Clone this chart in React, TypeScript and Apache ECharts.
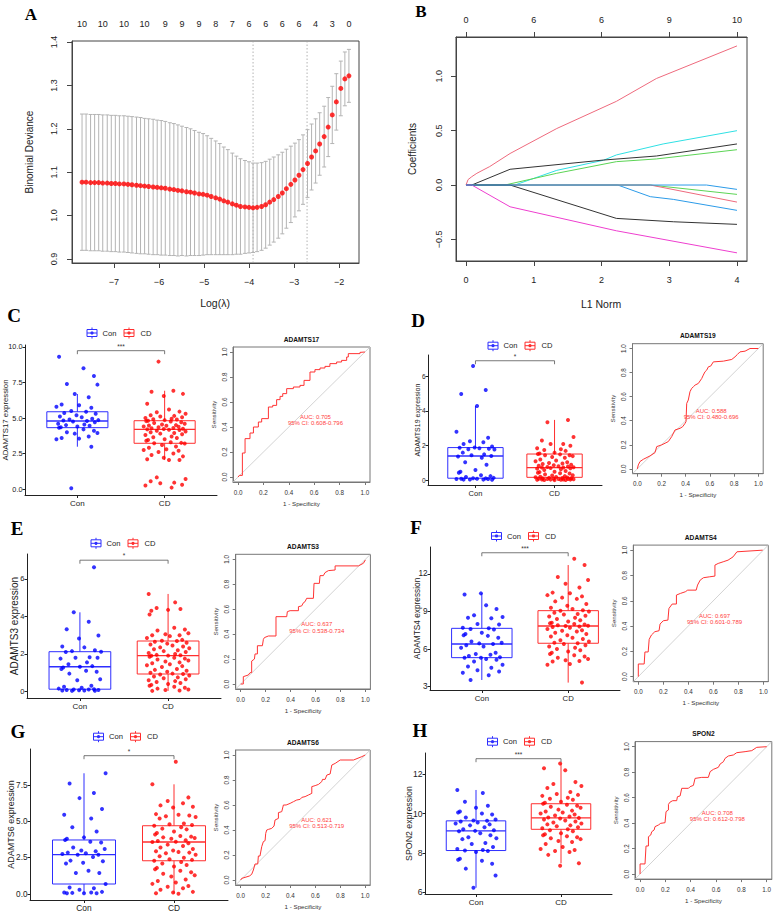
import React, { useEffect, useRef } from "react";
import * as echarts from "echarts";

const FONT = '"Liberation Sans", Arial, Helvetica, sans-serif';
const SERIF = '"Liberation Serif", "Times New Roman", Times, serif';

// ---------------- Panel A : cross-validation curve ----------------
const LOG_LAMBDA = [-7.71, -7.62, -7.52, -7.43, -7.34, -7.25, -7.15, -7.06, -6.97, -6.88, -6.78, -6.69, -6.6, -6.5, -6.41, -6.32, -6.23, -6.13, -6.04, -5.95, -5.86, -5.76, -5.67, -5.58, -5.49, -5.39, -5.3, -5.21, -5.11, -5.02, -4.93, -4.84, -4.74, -4.65, -4.56, -4.47, -4.37, -4.28, -4.19, -4.09, -4.0, -3.91, -3.82, -3.72, -3.63, -3.54, -3.45, -3.35, -3.26, -3.17, -3.07, -2.98, -2.89, -2.8, -2.7, -2.61, -2.52, -2.43, -2.33, -2.24, -2.15, -2.06, -1.96, -1.87, -1.78];
const CV_MEAN = [1.077, 1.077, 1.076, 1.076, 1.076, 1.075, 1.075, 1.074, 1.074, 1.073, 1.073, 1.072, 1.071, 1.07, 1.069, 1.068, 1.067, 1.066, 1.065, 1.064, 1.063, 1.061, 1.06, 1.058, 1.057, 1.055, 1.054, 1.052, 1.05, 1.049, 1.047, 1.044, 1.041, 1.038, 1.034, 1.031, 1.027, 1.024, 1.021, 1.02, 1.019, 1.018, 1.019, 1.021, 1.025, 1.031, 1.037, 1.044, 1.052, 1.062, 1.072, 1.082, 1.093, 1.106, 1.12, 1.135, 1.149, 1.165, 1.182, 1.204, 1.232, 1.262, 1.293, 1.315, 1.322];
const CV_SE = [0.157, 0.157, 0.157, 0.157, 0.157, 0.157, 0.157, 0.157, 0.157, 0.157, 0.157, 0.157, 0.157, 0.157, 0.157, 0.156, 0.156, 0.156, 0.155, 0.155, 0.154, 0.153, 0.152, 0.151, 0.149, 0.148, 0.146, 0.144, 0.142, 0.14, 0.137, 0.134, 0.131, 0.128, 0.124, 0.121, 0.117, 0.113, 0.11, 0.107, 0.105, 0.103, 0.102, 0.101, 0.1, 0.099, 0.098, 0.096, 0.094, 0.091, 0.088, 0.085, 0.082, 0.08, 0.078, 0.076, 0.074, 0.072, 0.07, 0.068, 0.066, 0.065, 0.063, 0.062, 0.061];
const NZERO_POS = [-7.71, -7.25, -6.78, -6.32, -5.86, -5.49, -5.11, -4.74, -4.37, -4.0, -3.63, -3.26, -2.89, -2.52, -2.15, -1.78];
const NZERO_LABELS = ["10", "10", "10", "10", "9", "9", "9", "8", "7", "6", "6", "6", "6", "4", "3", "0"];
const LAMBDA_MIN = -3.91;
const LAMBDA_1SE = -2.71;
const A_X_TICKS = [-7, -6, -5, -4, -3, -2];
const A_Y_TICKS = [0.9, 1.0, 1.1, 1.2, 1.3, 1.4];

// ---------------- Panel B : coefficient paths ----------------
const B_X_TICKS = [0, 1, 2, 3, 4];
const B_TOP_LABELS = ["0", "6", "6", "9", "10"];
const B_Y_TICKS = [-0.5, 0, 0.5, 1.0];
const PATH_PINK_UP = [[0, 0], [0.03, 0.05], [0.085, 0.077], [0.16, 0.108], [0.35, 0.17], [0.65, 0.29], [1.34, 0.52], [2.22, 0.77], [2.81, 0.98], [4.0, 1.28]];
const PATH_CYAN = [[0, 0], [0.72, 0], [1.34, 0.135], [2.03, 0.228], [2.22, 0.277], [2.91, 0.378], [4.0, 0.5]];
const PATH_BLACK_UP = [[0, 0], [0.085, 0], [0.65, 0.145], [2.03, 0.23], [2.81, 0.267], [4.0, 0.378]];
const PATH_GREEN_UP = [[0, 0], [0.575, 0], [1.34, 0.108], [2.22, 0.215], [2.81, 0.24], [4.0, 0.325]];
const PATH_BLUE_DOWN = [[0, 0], [2.24, 0], [2.72, -0.107], [3.06, -0.132], [4.0, -0.233]];
const PATH_GREEN_DOWN = [[0, 0], [2.72, 0], [4.0, -0.086]];
const PATH_PINK_DOWN = [[0, 0], [2.72, 0], [4.0, -0.157]];
const PATH_BLACK_DOWN = [[0, 0], [0.65, 0], [2.22, -0.307], [3.06, -0.338], [4.0, -0.362]];
const PATH_MAGENTA = [[0, 0], [0.085, 0], [0.65, -0.2], [2.22, -0.421], [4.0, -0.624]];
const PATH_BLUE_FLAT = [[0, 0], [3.55, 0], [4.0, -0.04]];
const COEF_PATHS = [PATH_PINK_UP, PATH_CYAN, PATH_BLACK_UP, PATH_GREEN_UP, PATH_BLUE_DOWN, PATH_GREEN_DOWN, PATH_PINK_DOWN, PATH_BLACK_DOWN, PATH_MAGENTA, PATH_BLUE_FLAT];
const COEF_COLORS = ["#EE6A7D", "#2FE0E4", "#333333", "#5CD455", "#2C9BE8", "#5CD455", "#EE6A7D", "#333333", "#EE3FCF", "#2C9BE8"];

// ---------------- Box plots (C–H) ----------------
const CATEGORIES = ["Con", "CD"];
const CATEGORY_POS = [1, 2];

const C_CON_POINTS = [9.32, 8.5, 7.96, 7.4, 7.35, 6.69, 6.46, 5.95, 5.9, 5.8, 5.72, 5.5, 5.44, 5.35, 5.3, 5.2, 5.1, 5.05, 4.95, 4.9, 4.85, 4.82, 4.79, 4.75, 4.7, 4.6, 4.55, 4.5, 4.45, 4.4, 4.35, 4.32, 4.2, 4.1, 4.0, 3.95, 3.9, 3.7, 3.6, 3.55, 3.5, 2.98, 0.05];
const C_CD_POINTS = [8.97, 6.92, 6.85, 6.7, 6.55, 6.0, 5.6, 5.45, 5.4, 5.3, 5.2, 5.15, 5.1, 5.05, 5.0, 4.95, 4.92, 4.9, 4.85, 4.81, 4.78, 4.75, 4.7, 4.65, 4.6, 4.55, 4.5, 4.48, 4.45, 4.4, 4.38, 4.35, 4.3, 4.28, 4.25, 4.22, 4.2, 4.18, 4.15, 4.1, 4.05, 4.0, 3.95, 3.9, 3.85, 3.8, 3.7, 3.65, 3.6, 3.5, 3.45, 3.4, 3.3, 3.25, 3.22, 3.2, 3.1, 3.0, 2.9, 2.8, 2.75, 2.7, 2.6, 2.5, 2.4, 2.3, 2.2, 2.1, 2.05, 2.04, 0.82, 0.7, 0.55, 0.45, 0.4, 0.3, 0.25, 0.1];
const C_CON_BOX = [2.98, 4.32, 4.79, 5.44, 6.69];
const C_CD_BOX = [2.04, 3.22, 4.2, 4.81, 6.92];
const C_Y_TICKS = [0, 2.5, 5, 7.5, 10];

const D_CON_POINTS = [6.58, 5.2, 4.97, 4.28, 2.8, 2.45, 2.25, 2.2, 2.1, 1.95, 1.9, 1.88, 1.85, 1.82, 1.8, 1.78, 1.6, 1.5, 1.45, 1.41, 1.38, 1.3, 1.05, 0.9, 0.6, 0.5, 0.45, 0.3, 0.25, 0.2, 0.15, 0.13, 0.12, 0.1, 0.1, 0.08, 0.08, 0.06, 0.05, 0.05, 0.04];
const D_CD_POINTS = [3.48, 3.35, 2.5, 2.3, 2.1, 2.1, 2.0, 1.85, 1.8, 1.75, 1.7, 1.6, 1.55, 1.52, 1.5, 1.45, 1.45, 1.4, 1.35, 1.3, 1.2, 1.15, 1.1, 1.05, 1.0, 0.98, 0.95, 0.9, 0.88, 0.85, 0.82, 0.8, 0.78, 0.76, 0.75, 0.74, 0.72, 0.7, 0.68, 0.65, 0.6, 0.55, 0.5, 0.48, 0.45, 0.42, 0.4, 0.35, 0.3, 0.28, 0.25, 0.22, 0.2, 0.18, 0.17, 0.15, 0.14, 0.12, 0.12, 0.1, 0.1, 0.09, 0.08, 0.08, 0.07, 0.06, 0.06, 0.05, 0.05, 0.04, 0.04, 0.03, 0.03, 0.02];
const D_CON_BOX = [0.04, 0.13, 1.41, 1.89, 4.28];
const D_CD_BOX = [0.02, 0.18, 0.74, 1.52, 3.48];
const D_Y_TICKS = [0, 2, 4, 6];

const E_CON_POINTS = [6.62, 4.22, 3.72, 3.32, 2.98, 2.82, 2.4, 2.35, 2.2, 2.15, 2.12, 2.1, 1.82, 1.8, 1.8, 1.75, 1.55, 1.45, 1.35, 1.32, 1.28, 1.2, 1.1, 1.05, 0.95, 0.65, 0.6, 0.3, 0.25, 0.2, 0.15, 0.12, 0.1, 0.1, 0.08, 0.08, 0.06, 0.05, 0.05, 0.04, 0.03];
const E_CD_POINTS = [5.2, 4.75, 4.45, 4.4, 4.35, 4.3, 4.1, 3.4, 3.3, 3.25, 3.1, 3.05, 3.0, 3.0, 2.95, 2.85, 2.75, 2.7, 2.69, 2.65, 2.6, 2.55, 2.5, 2.45, 2.4, 2.35, 2.3, 2.25, 2.2, 2.15, 2.1, 2.05, 2.0, 1.95, 1.93, 1.91, 1.9, 1.85, 1.8, 1.75, 1.7, 1.65, 1.6, 1.55, 1.5, 1.45, 1.4, 1.35, 1.3, 1.2, 1.15, 1.1, 1.05, 1.0, 0.95, 0.93, 0.9, 0.85, 0.8, 0.75, 0.7, 0.65, 0.6, 0.55, 0.5, 0.45, 0.4, 0.35, 0.3, 0.25, 0.2, 0.15, 0.1, 0.08, 0.05, 0.03];
const E_CON_BOX = [0.03, 0.12, 1.32, 2.12, 4.22];
const E_CD_BOX = [0.03, 0.93, 1.91, 2.69, 5.2];
const E_Y_TICKS = [0, 2, 4, 6];

const F_CON_POINTS = [10.44, 10.35, 9.5, 9.2, 8.7, 8.55, 8.5, 8.45, 8.0, 7.95, 7.7, 7.65, 7.6, 7.55, 7.3, 7.2, 7.1, 7.05, 6.9, 6.6, 6.5, 6.45, 6.4, 6.3, 6.2, 6.1, 5.7, 5.6, 5.55, 5.45, 5.35, 5.31, 5.3, 5.2, 5.15, 5.0, 4.75, 4.6, 4.5, 4.3, 4.2, 4.1, 3.9, 3.53];
const F_CD_POINTS = [13.2, 12.7, 11.75, 11.5, 11.2, 10.9, 10.5, 10.45, 10.3, 10.2, 10.1, 10.0, 9.8, 9.6, 9.45, 9.3, 9.2, 9.1, 9.06, 9.0, 8.9, 8.8, 8.75, 8.65, 8.6, 8.5, 8.4, 8.3, 8.2, 8.1, 8.05, 8.0, 7.95, 7.9, 7.85, 7.84, 7.8, 7.75, 7.7, 7.6, 7.5, 7.45, 7.4, 7.3, 7.2, 7.1, 7.0, 6.9, 6.8, 6.7, 6.6, 6.5, 6.46, 6.4, 6.3, 6.2, 6.1, 6.0, 5.9, 5.8, 5.7, 5.6, 5.5, 5.4, 5.3, 5.2, 5.1, 5.05, 5.0, 4.8, 4.75, 3.32];
const F_CON_BOX = [3.53, 5.31, 6.4, 7.65, 10.44];
const F_CD_BOX = [3.32, 6.46, 7.84, 9.06, 12.7];
const F_Y_TICKS = [3, 6, 9, 12];

const G_CON_POINTS = [8.31, 7.6, 6.95, 6.6, 5.85, 5.45, 5.2, 4.6, 4.3, 3.9, 3.8, 3.72, 3.6, 3.55, 3.2, 3.1, 3.0, 2.95, 2.85, 2.8, 2.75, 2.71, 2.7, 2.55, 2.3, 2.25, 2.15, 2.1, 1.6, 1.45, 1.45, 0.69, 0.45, 0.4, 0.3, 0.15, 0.1, 0.1, 0.08, 0.06, 0.05, 0.05];
const G_CD_POINTS = [9.1, 7.55, 6.65, 6.4, 6.25, 6.1, 6.0, 5.95, 5.5, 5.45, 5.4, 5.35, 5.3, 5.2, 4.85, 4.8, 4.75, 4.7, 4.6, 4.5, 4.45, 4.3, 4.2, 4.1, 4.0, 3.95, 3.9, 3.85, 3.8, 3.7, 3.65, 3.6, 3.58, 3.5, 3.4, 3.3, 3.2, 3.1, 3.0, 2.95, 2.9, 2.85, 2.8, 2.7, 2.6, 2.5, 2.4, 2.35, 2.29, 2.2, 2.1, 2.0, 1.9, 1.8, 1.7, 1.6, 1.5, 1.4, 1.3, 1.2, 1.0, 0.9, 0.8, 0.7, 0.55, 0.5, 0.4, 0.3, 0.15, 0.1, 0.05, 0.02];
const G_CON_BOX = [0.05, 0.69, 2.71, 3.72, 8.31];
const G_CD_BOX = [0.02, 2.29, 3.58, 4.7, 7.55];
const G_Y_TICKS = [0, 2.5, 5, 7.5];

const H_CON_POINTS = [11.2, 11.05, 10.6, 10.4, 10.3, 10.1, 10.05, 10.0, 9.95, 9.8, 9.7, 9.65, 9.63, 9.6, 9.55, 9.5, 9.45, 9.4, 9.3, 9.2, 9.15, 9.12, 9.1, 9.0, 8.9, 8.8, 8.75, 8.7, 8.5, 8.45, 8.3, 8.2, 8.15, 8.12, 8.1, 8.05, 7.7, 7.65, 7.6, 7.45, 7.2, 6.85, 6.23];
const H_CD_POINTS = [12.55, 12.3, 12.2, 11.6, 11.5, 11.4, 11.3, 11.1, 11.0, 10.95, 10.9, 10.8, 10.75, 10.7, 10.6, 10.55, 10.5, 10.45, 10.4, 10.35, 10.3, 10.2, 10.15, 10.1, 10.05, 10.0, 9.95, 9.9, 9.85, 9.8, 9.78, 9.75, 9.7, 9.65, 9.6, 9.55, 9.5, 9.45, 9.4, 9.35, 9.3, 9.25, 9.2, 9.15, 9.1, 9.0, 8.95, 8.9, 8.85, 8.8, 8.75, 8.7, 8.6, 8.55, 8.45, 8.3, 8.2, 8.15, 8.1, 8.05, 7.9, 7.47, 7.35];
const H_CON_BOX = [6.23, 8.12, 9.12, 9.63, 11.2];
const H_CD_BOX = [7.47, 9.2, 9.78, 10.5, 12.55];
const H_Y_TICKS = [6, 8, 10, 12];

// ---------------- ROC curves: [1 - specificity, sensitivity] ----------------
const ROC_TICKS = [0, 0.2, 0.4, 0.6, 0.8, 1.0];
const C_ROC = [[0, 0], [0.01, 0.013], [0.034, 0.013], [0.034, 0.192], [0.055, 0.192], [0.055, 0.307], [0.094, 0.307], [0.094, 0.352], [0.121, 0.352], [0.121, 0.4], [0.16, 0.4], [0.16, 0.44], [0.186, 0.44], [0.186, 0.467], [0.239, 0.467], [0.239, 0.56], [0.273, 0.56], [0.273, 0.573], [0.304, 0.573], [0.304, 0.619], [0.331, 0.619], [0.331, 0.645], [0.352, 0.645], [0.352, 0.667], [0.383, 0.667], [0.383, 0.707], [0.436, 0.707], [0.436, 0.72], [0.488, 0.72], [0.488, 0.733], [0.52, 0.733], [0.52, 0.773], [0.567, 0.773], [0.567, 0.84], [0.606, 0.84], [0.606, 0.859], [0.646, 0.859], [0.646, 0.872], [0.685, 0.872], [0.685, 0.885], [0.724, 0.885], [0.724, 0.907], [0.777, 0.907], [0.777, 0.92], [0.816, 0.92], [0.816, 0.933], [0.856, 0.933], [0.856, 0.96], [0.869, 0.96], [0.869, 0.987], [0.961, 0.987], [0.961, 0.997], [1, 1]];
const D_ROC = [[0, 0], [0.008, 0.033], [0.022, 0.061], [0.05, 0.08], [0.105, 0.108], [0.146, 0.135], [0.16, 0.185], [0.2, 0.199], [0.229, 0.213], [0.256, 0.227], [0.284, 0.268], [0.311, 0.323], [0.353, 0.337], [0.375, 0.351], [0.394, 0.378], [0.402, 0.392], [0.408, 0.544], [0.421, 0.572], [0.435, 0.641], [0.449, 0.669], [0.463, 0.682], [0.477, 0.696], [0.504, 0.71], [0.532, 0.751], [0.545, 0.779], [0.559, 0.807], [0.573, 0.82], [0.587, 0.848], [0.606, 0.854], [0.628, 0.889], [0.711, 0.895], [0.78, 0.909], [0.807, 0.931], [0.826, 0.95], [0.848, 0.972], [0.89, 0.978], [0.931, 1], [1, 1]];
const E_ROC = [[0, 0], [0.021, 0], [0.021, 0.059], [0.061, 0.072], [0.075, 0.091], [0.088, 0.091], [0.088, 0.184], [0.11, 0.2], [0.115, 0.241], [0.134, 0.241], [0.134, 0.307], [0.174, 0.307], [0.182, 0.358], [0.19, 0.372], [0.222, 0.385], [0.283, 0.385], [0.283, 0.54], [0.369, 0.54], [0.374, 0.58], [0.396, 0.588], [0.463, 0.588], [0.463, 0.62], [0.489, 0.626], [0.503, 0.652], [0.516, 0.66], [0.529, 0.687], [0.583, 0.687], [0.588, 0.807], [0.631, 0.807], [0.636, 0.869], [0.663, 0.869], [0.676, 0.893], [0.703, 0.909], [0.757, 0.914], [0.757, 0.947], [0.944, 0.947], [0.984, 0.968], [1, 0.995], [1, 1]];
const F_ROC = [[0, 0], [0, 0.1], [0.047, 0.1], [0.053, 0.195], [0.079, 0.195], [0.087, 0.295], [0.105, 0.329], [0.132, 0.355], [0.166, 0.363], [0.174, 0.416], [0.2, 0.442], [0.237, 0.447], [0.245, 0.539], [0.271, 0.574], [0.305, 0.574], [0.305, 0.645], [0.337, 0.658], [0.376, 0.671], [0.395, 0.684], [0.463, 0.684], [0.474, 0.724], [0.495, 0.763], [0.521, 0.782], [0.568, 0.789], [0.613, 0.795], [0.613, 0.882], [0.639, 0.895], [0.679, 0.908], [0.718, 0.921], [0.758, 0.947], [0.789, 0.987], [0.995, 1], [1, 1]];
const G_ROC = [[0, 0], [0.008, 0.013], [0.035, 0.021], [0.07, 0.032], [0.088, 0.045], [0.102, 0.08], [0.115, 0.128], [0.137, 0.128], [0.142, 0.192], [0.155, 0.192], [0.169, 0.267], [0.182, 0.307], [0.196, 0.315], [0.201, 0.373], [0.209, 0.4], [0.223, 0.405], [0.249, 0.413], [0.268, 0.432], [0.276, 0.48], [0.303, 0.493], [0.303, 0.539], [0.33, 0.547], [0.343, 0.6], [0.365, 0.6], [0.397, 0.613], [0.424, 0.627], [0.45, 0.64], [0.477, 0.645], [0.491, 0.661], [0.517, 0.667], [0.544, 0.68], [0.571, 0.693], [0.571, 0.747], [0.598, 0.755], [0.625, 0.765], [0.651, 0.787], [0.657, 0.805], [0.678, 0.805], [0.692, 0.84], [0.718, 0.848], [0.732, 0.92], [0.759, 0.933], [0.799, 0.96], [0.906, 0.96], [0.973, 0.987], [1, 1]];
const H_ROC = [[0, 0], [0, 0.079], [0.039, 0.079], [0.047, 0.22], [0.066, 0.22], [0.066, 0.293], [0.084, 0.306], [0.092, 0.332], [0.111, 0.346], [0.118, 0.372], [0.145, 0.385], [0.163, 0.398], [0.197, 0.403], [0.205, 0.49], [0.224, 0.503], [0.224, 0.547], [0.237, 0.565], [0.258, 0.576], [0.289, 0.576], [0.295, 0.607], [0.316, 0.613], [0.329, 0.673], [0.382, 0.673], [0.395, 0.686], [0.421, 0.696], [0.434, 0.751], [0.487, 0.759], [0.539, 0.759], [0.553, 0.804], [0.579, 0.822], [0.618, 0.838], [0.632, 0.864], [0.658, 0.882], [0.671, 0.908], [0.697, 0.927], [0.737, 0.935], [0.763, 0.953], [0.829, 0.961], [0.882, 0.969], [0.921, 0.995], [1, 1]];

// deterministic horizontal jitter offsets (category units)
const JITTER = [-0.21, 0.07, 0.19, -0.12, 0.23, -0.03, 0.13, -0.18, 0.02, -0.24, 0.16, -0.07, 0.1, -0.15, 0.21, -0.01, -0.2, 0.05, 0.17, -0.09, 0.24, -0.16, 0.11, -0.05, 0.2, -0.22, 0.08, -0.13, 0.14, 0.0, -0.19];

// ---------------- layout (pixels) ----------------
const PANELS = [
  { letter: "C", letterXY: [14, 315], gene: "ADAMTS17", box: { left: 25, top: 345, width: 192, height: 150 }, yRange: [-0.42, 10.14], yTicks: C_Y_TICKS, yDigits: 1, tickFont: 7.3, catFont: 8, titleXY: [5.5, 420], titleFont: 7.8, legendXY: [92, 333], con: C_CON_POINTS, cd: C_CD_POINTS, conBox: C_CON_BOX, cdBox: C_CD_BOX, bracket: 9.74, stars: "***", roc: { left: 233, top: 347, width: 137, height: 135 }, curve: C_ROC, auc: "AUC: 0.705", ci: "95% CI: 0.608-0.796" },
  { letter: "D", letterXY: [418, 320], gene: "ADAMTS19", box: { left: 428, top: 355, width: 174, height: 130 }, yRange: [-0.26, 7.21], yTicks: D_Y_TICKS, yDigits: 0, tickFont: 6.5, catFont: 7.5, titleXY: [417, 420], titleFont: 7, legendXY: [493, 345.7], con: D_CON_POINTS, cd: D_CD_POINTS, conBox: D_CON_BOX, cdBox: D_CD_BOX, bracket: 6.88, stars: "*", roc: { left: 632.5, top: 343.7, width: 130.7, height: 130 }, curve: D_ROC, auc: "AUC: 0.588", ci: "95% CI: 0.480-0.696" },
  { letter: "E", letterXY: [17, 528], gene: "ADAMTS3", box: { left: 27, top: 554, width: 194, height: 144 }, yRange: [-0.35, 7.33], yTicks: E_Y_TICKS, yDigits: 0, tickFont: 7.5, catFont: 8, titleXY: [14, 626], titleFont: 10, legendXY: [96, 543.3], con: E_CON_POINTS, cd: E_CD_POINTS, conBox: E_CON_BOX, cdBox: E_CD_BOX, bracket: 7.0, stars: "*", roc: { left: 235.7, top: 554.3, width: 134.7, height: 134.7 }, curve: E_ROC, auc: "AUC: 0.637", ci: "95% CI: 0.538-0.734" },
  { letter: "F", letterXY: [416, 527], gene: "ADAMTS4", box: { left: 430, top: 547, width: 190, height: 143 }, yRange: [2.73, 14.14], yTicks: F_Y_TICKS, yDigits: 0, tickFont: 8.2, catFont: 7.8, titleXY: [416.5, 618.5], titleFont: 8.3, legendXY: [496.5, 536], con: F_CON_POINTS, cd: F_CD_POINTS, conBox: F_CON_BOX, cdBox: F_CD_BOX, bracket: 13.68, stars: "***", roc: { left: 633.3, top: 545.1, width: 135, height: 136.6 }, curve: F_ROC, auc: "AUC: 0.697", ci: "95% CI: 0.601-0.789" },
  { letter: "G", letterXY: [18, 731], gene: "ADAMTS6", box: { left: 30, top: 749, width: 198, height: 151 }, yRange: [-0.41, 9.98], yTicks: G_Y_TICKS, yDigits: 1, tickFont: 8.2, catFont: 8.4, titleXY: [10.5, 824.5], titleFont: 9, legendXY: [98.5, 736.7], con: G_CON_POINTS, cd: G_CD_POINTS, conBox: G_CON_BOX, cdBox: G_CD_BOX, bracket: 9.52, stars: "*", roc: { left: 235.7, top: 750, width: 134.5, height: 135 }, curve: G_ROC, auc: "AUC: 0.621", ci: "95% CI: 0.513-0.719" },
  { letter: "H", letterXY: [420, 730], gene: "SPON2", box: { left: 425, top: 753, width: 187, height: 141 }, yRange: [5.91, 13.08], yTicks: H_Y_TICKS, yDigits: 0, tickFont: 8.6, catFont: 8, titleXY: [409, 823.5], titleFont: 8.8, legendXY: [492.5, 741.7], con: H_CON_POINTS, cd: H_CD_POINTS, conBox: H_CON_BOX, cdBox: H_CD_BOX, bracket: 12.79, stars: "***", roc: { left: 635, top: 741.6, width: 136.8, height: 137.5 }, curve: H_ROC, auc: "AUC: 0.708", ci: "95% CI: 0.612-0.798" },
];

const A_GRID = { left: 72, top: 41, width: 287, height: 222 };
const A_X_RANGE = [-7.933, -1.556];
const A_Y_RANGE = [0.8908, 1.4023];
const B_GRID = { left: 456, top: 37, width: 291, height: 224 };
const B_X_RANGE = [-0.148, 4.148];
const B_Y_RANGE = [-0.699, 1.362];

const BLUE = "#0000FF";
const RED = "#FF0000";
const BLUE_LINE = "#2E2EFF";
const RED_LINE = "#FF2E2E";

const nearestIdx = (arr: number[], v: number) =>
  arr.reduce((b, a, i) => (Math.abs(a - v) < Math.abs(arr[b] - v) ? i : b), 0);
const fmtNum = (v: number, d: number) => (v < -1e-9 ? "\u2212" : "") + Math.abs(v).toFixed(d);

function txt(x: number, y: number, text: string, size: number, o: any = {}) {
  return {
    type: "text",
    x,
    y,
    rotation: o.rot || 0,
    silent: true,
    z: 100,
    style: {
      text,
      fill: o.color || "#222",
      fontSize: size,
      fontFamily: o.family || FONT,
      fontWeight: o.weight || "normal",
      align: o.align || "center",
      verticalAlign: "middle",
    },
  };
}

function valAxis(gi: number, position: string, range: number[], ticks: number[], fmt: any, st: any) {
  return {
    type: "value",
    gridIndex: gi,
    position,
    min: range[0],
    max: range[1],
    axisLine: { show: st.showLine !== false, onZero: false, lineStyle: { color: st.color, width: 1 } },
    axisTick: {
      show: (st.tickLen || 0) > 0,
      length: st.tickLen || 0,
      inside: false,
      customValues: ticks,
      lineStyle: { color: st.color, width: 1 },
    },
    axisLabel: {
      show: true,
      customValues: ticks,
      formatter: fmt,
      fontSize: st.fontSize,
      color: st.textColor || "#222",
      fontFamily: FONT,
      margin: st.margin,
      rotate: st.rotate || 0,
      hideOverlap: false,
    },
    splitLine: { show: false },
    splitArea: { show: false },
  };
}

function buildOption() {
  const grid: any[] = [];
  const xAxis: any[] = [];
  const yAxis: any[] = [];
  const series: any[] = [];
  const graphic: any[] = [];

  const addGrid = (r: any, border: string | null) => {
    grid.push({
      left: r.left,
      top: r.top,
      width: r.width,
      height: r.height,
      show: !!border,
      borderColor: border || "#000",
      borderWidth: border ? 1 : 0,
      backgroundColor: "transparent",
    });
    return grid.length - 1;
  };
  const addX = (c: any) => (xAxis.push(c), xAxis.length - 1);
  const addY = (c: any) => (yAxis.push(c), yAxis.length - 1);

  // ---------- Panel A ----------
  const gA = addGrid(A_GRID, "#444");
  const xA = addX(valAxis(gA, "bottom", A_X_RANGE, A_X_TICKS, (v: number) => fmtNum(v, 0), { color: "#444", fontSize: 9, margin: 14, tickLen: 5 }));
  addX(valAxis(gA, "top", A_X_RANGE, NZERO_POS, (v: number) => NZERO_LABELS[nearestIdx(NZERO_POS, v)], { color: "#444", fontSize: 9, margin: 13, tickLen: 0, showLine: false }));
  const yA = addY(valAxis(gA, "left", A_Y_RANGE, A_Y_TICKS, (v: number) => v.toFixed(1), { color: "#444", fontSize: 9, margin: 14, tickLen: 5, rotate: 90 }));

  series.push({
    type: "custom",
    xAxisIndex: xA,
    yAxisIndex: yA,
    silent: true,
    z: 2,
    data: LOG_LAMBDA.map((x, i) => [x, CV_MEAN[i], CV_SE[i]]),
    renderItem: (params: any, api: any) => {
      const x = api.value(0);
      const m = api.value(1);
      const s = api.value(2);
      const lo = api.coord([x, m - s]);
      const hi = api.coord([x, m + s]);
      const st = { stroke: "#B4B4B4", lineWidth: 1 };
      return {
        type: "group",
        children: [
          { type: "line", shape: { x1: lo[0], y1: lo[1], x2: hi[0], y2: hi[1] }, style: st },
          { type: "line", shape: { x1: lo[0] - 2, y1: lo[1], x2: lo[0] + 2, y2: lo[1] }, style: st },
          { type: "line", shape: { x1: hi[0] - 2, y1: hi[1], x2: hi[0] + 2, y2: hi[1] }, style: st },
        ],
      };
    },
  });
  series.push({
    type: "custom",
    xAxisIndex: xA,
    yAxisIndex: yA,
    silent: true,
    z: 1,
    data: [[LAMBDA_MIN, 1], [LAMBDA_1SE, 1]],
    renderItem: (params: any, api: any) => {
      const p = api.coord([api.value(0), api.value(1)]);
      const cs = params.coordSys;
      return {
        type: "line",
        shape: { x1: p[0], y1: cs.y, x2: p[0], y2: cs.y + cs.height },
        style: { stroke: "#A0A0A0", lineWidth: 0.8, lineDash: [1.5, 2] },
      };
    },
  });
  series.push({
    type: "scatter",
    xAxisIndex: xA,
    yAxisIndex: yA,
    silent: true,
    z: 3,
    symbolSize: 5,
    itemStyle: { color: RED },
    data: LOG_LAMBDA.map((x, i) => [x, CV_MEAN[i]]),
  });
  graphic.push(txt(29.5, 152, "Binomial Deviance", 10, { rot: Math.PI / 2 }));
  graphic.push(txt(215, 303, "Log(\u03bb)", 10.5));
  graphic.push(txt(31, 14, "A", 17, { family: SERIF, weight: "bold", color: "#000" }));

  // ---------- Panel B ----------
  const gB = addGrid(B_GRID, "#444");
  const xB = addX(valAxis(gB, "bottom", B_X_RANGE, B_X_TICKS, (v: number) => fmtNum(v, 0), { color: "#444", fontSize: 9, margin: 14, tickLen: 5 }));
  addX(valAxis(gB, "top", B_X_RANGE, B_X_TICKS, (v: number) => B_TOP_LABELS[nearestIdx(B_X_TICKS, v)], { color: "#444", fontSize: 9, margin: 13, tickLen: 5 }));
  const yB = addY(valAxis(gB, "left", B_Y_RANGE, B_Y_TICKS, (v: number) => fmtNum(v, 1), { color: "#444", fontSize: 9, margin: 13, tickLen: 5, rotate: 90 }));
  COEF_PATHS.forEach((p, i) => {
    series.push({
      type: "line",
      xAxisIndex: xB,
      yAxisIndex: yB,
      silent: true,
      data: p,
      symbol: "none",
      showSymbol: false,
      z: 2 + i * 0.01,
      lineStyle: { color: COEF_COLORS[i], width: 1 },
    });
  });
  graphic.push(txt(412.5, 149, "Coefficients", 10, { rot: Math.PI / 2 }));
  graphic.push(txt(601, 304, "L1 Norm", 10.5));
  graphic.push(txt(421, 11, "B", 17, { family: SERIF, weight: "bold", color: "#000" }));

  // ---------- Panels C–H ----------
  const boxRender = (color: string) => (params: any, api: any) => {
    const x = api.value(0);
    const p = [1, 2, 3, 4, 5].map((i) => api.coord([x, api.value(i)]));
    const half = api.size([0.35, 0])[0];
    const cx = p[0][0];
    const ls = { stroke: color, lineWidth: 1 };
    return {
      type: "group",
      children: [
        { type: "line", shape: { x1: cx, y1: p[0][1], x2: cx, y2: p[1][1] }, style: ls },
        { type: "line", shape: { x1: cx, y1: p[3][1], x2: cx, y2: p[4][1] }, style: ls },
        { type: "rect", shape: { x: cx - half, y: p[3][1], width: 2 * half, height: p[1][1] - p[3][1] }, style: { stroke: color, lineWidth: 1, fill: "none" } },
        { type: "line", shape: { x1: cx - half, y1: p[2][1], x2: cx + half, y2: p[2][1] }, style: { stroke: color, lineWidth: 1.4 } },
      ],
    };
  };
  const bracketRender = (stars: string) => (params: any, api: any) => {
    const a = api.coord([api.value(0), api.value(2)]);
    const b = api.coord([api.value(1), api.value(2)]);
    return {
      type: "group",
      children: [
        { type: "polyline", shape: { points: [[a[0], a[1] + 3.5], [a[0], a[1]], [b[0], b[1]], [b[0], b[1] + 3.5]] }, style: { stroke: "#555", lineWidth: 0.8, fill: "none" } },
        { type: "text", x: (a[0] + b[0]) / 2, y: a[1] - 1, style: { text: stars, fill: "#333", fontSize: 6.5, fontFamily: FONT, align: "center", verticalAlign: "bottom" } },
      ],
    };
  };
  const aucRender = (l1: string, l2: string) => (params: any, api: any) => {
    const p = api.coord([api.value(0), api.value(1)]);
    return {
      type: "group",
      children: [
        { type: "text", x: p[0], y: p[1] - 3.3, style: { text: l1, fill: "#FF4040", fontSize: 6, fontFamily: FONT, align: "center", verticalAlign: "middle" } },
        { type: "text", x: p[0], y: p[1] + 3.3, style: { text: l2, fill: "#FF4040", fontSize: 6, fontFamily: FONT, align: "center", verticalAlign: "middle" } },
      ],
    };
  };
  const legendIcon = (cx: number, cy: number, color: string) => [
    { type: "line", silent: true, shape: { x1: cx, y1: cy - 5.5, x2: cx, y2: cy + 5.5 }, style: { stroke: color, lineWidth: 1 } },
    { type: "rect", silent: true, shape: { x: cx - 5, y: cy - 3.5, width: 10, height: 7 }, style: { stroke: color, lineWidth: 1, fill: "#fff" } },
    { type: "line", silent: true, shape: { x1: cx - 5, y1: cy, x2: cx + 5, y2: cy }, style: { stroke: color, lineWidth: 1 } },
    { type: "circle", silent: true, shape: { cx, cy, r: 1.6 }, style: { fill: color } },
  ];

  PANELS.forEach((P, pi) => {
    const g = addGrid(P.box, null);
    const xi = addX(valAxis(g, "bottom", [0.4, 2.6], CATEGORY_POS, (v: number) => CATEGORIES[nearestIdx(CATEGORY_POS, v)], { color: "#222", fontSize: P.catFont, margin: 4, tickLen: 3 }));
    const yi = addY(valAxis(g, "left", P.yRange, P.yTicks, (v: number) => v.toFixed(P.yDigits), { color: "#222", fontSize: P.tickFont, margin: 2.5, tickLen: 2.5 }));
    series.push({ type: "custom", xAxisIndex: xi, yAxisIndex: yi, silent: true, z: 2, data: [[1, ...P.conBox]], renderItem: boxRender(BLUE_LINE) });
    series.push({ type: "custom", xAxisIndex: xi, yAxisIndex: yi, silent: true, z: 2, data: [[2, ...P.cdBox]], renderItem: boxRender(RED_LINE) });
    series.push({
      type: "scatter", xAxisIndex: xi, yAxisIndex: yi, silent: true, z: 3, symbolSize: 4,
      itemStyle: { color: BLUE },
      data: P.con.map((v, i) => [1 + JITTER[(i + pi * 5) % JITTER.length], v]),
    });
    series.push({
      type: "scatter", xAxisIndex: xi, yAxisIndex: yi, silent: true, z: 3, symbolSize: 4,
      itemStyle: { color: RED },
      data: P.cd.map((v, i) => [2 + JITTER[(i + pi * 7 + 11) % JITTER.length], v]),
    });
    series.push({ type: "custom", xAxisIndex: xi, yAxisIndex: yi, silent: true, z: 4, data: [[1, 2, P.bracket]], renderItem: bracketRender(P.stars) });

    // legend
    const [lx, ly] = P.legendXY;
    graphic.push(...legendIcon(lx, ly, BLUE_LINE));
    graphic.push(txt(lx + 10.5, ly, "Con", 7.6, { align: "left" }));
    graphic.push(...legendIcon(lx + 37, ly, RED_LINE));
    graphic.push(txt(lx + 48.5, ly, "CD", 7.6, { align: "left" }));
    // y title + panel letter
    graphic.push(txt(P.titleXY[0], P.titleXY[1], P.gene + " expression", P.titleFont, { rot: Math.PI / 2 }));
    graphic.push(txt(P.letterXY[0], P.letterXY[1], P.letter, 19, { family: SERIF, weight: "bold", color: "#000" }));

    // ROC
    const R = P.roc;
    const gr = addGrid(R, "#777");
    const xr = addX(valAxis(gr, "bottom", [-0.04, 1.04], ROC_TICKS, (v: number) => v.toFixed(1), { color: "#777", textColor: "#333", fontSize: 6.3, margin: 7, tickLen: 3 }));
    const yr = addY(valAxis(gr, "left", [-0.04, 1.04], ROC_TICKS, (v: number) => v.toFixed(1), { color: "#777", textColor: "#333", fontSize: 6.3, margin: 6, tickLen: 3, rotate: 90 }));
    series.push({
      type: "line", xAxisIndex: xr, yAxisIndex: yr, silent: true, z: 2, symbol: "none", showSymbol: false,
      lineStyle: { color: "#C8C8C8", width: 0.8 },
      data: [[-0.04, -0.04], [1.04, 1.04]],
    });
    series.push({
      type: "line", xAxisIndex: xr, yAxisIndex: yr, silent: true, z: 3, symbol: "none", showSymbol: false,
      lineStyle: { color: "#FF3333", width: 1 },
      data: P.curve,
    });
    series.push({ type: "custom", xAxisIndex: xr, yAxisIndex: yr, silent: true, z: 4, data: [[0.61, 0.455]], renderItem: aucRender(P.auc, P.ci) });
    graphic.push(txt(R.left + R.width / 2, R.top - 8, P.gene, 6.6, { weight: "bold", color: "#111" }));
    graphic.push(txt(R.left - 20, R.top + R.height / 2, "Sensitivity", 6.2, { rot: Math.PI / 2, color: "#333" }));
    graphic.push(txt(R.left + R.width / 2, R.top + R.height + 21, "1 - Specificity", 6.2, { color: "#333" }));
  });

  return {
    animation: false,
    backgroundColor: "#ffffff",
    textStyle: { fontFamily: FONT },
    grid,
    xAxis,
    yAxis,
    series,
    graphic: { elements: graphic },
  };
}

export default function App() {
  const ref = useRef<HTMLDivElement>(null);
  useEffect(() => {
    if (!ref.current) return;
    const chart = echarts.init(ref.current, null, { renderer: "svg" });
    chart.setOption(buildOption() as any);
    return () => chart.dispose();
  }, []);
  return (
    <div
      ref={ref}
      style={{ position: "absolute", left: 0, top: 0, width: 781, height: 914, background: "#fff" }}
    />
  );
}
